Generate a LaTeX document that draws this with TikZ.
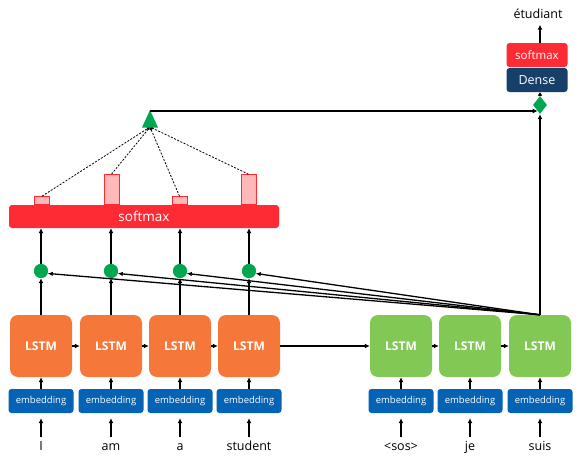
\documentclass[tikz,border=0pt]{standalone}
\usepackage{fontspec}
\setmainfont{Open Sans}
\usetikzlibrary{arrows.meta,shapes.geometric,calc}
\definecolor{lstmO}{RGB}{245,120,58}
\definecolor{lstmG}{RGB}{130,200,85}
\definecolor{embB}{RGB}{5,99,181}
\definecolor{smR}{RGB}{255,43,52}
\definecolor{denseB}{RGB}{22,64,105}
\definecolor{dotG}{RGB}{0,166,80}
\definecolor{barP}{RGB}{255,184,184}
\begin{document}
\begin{tikzpicture}[x=1pt,y=-1pt,
 enc/.style={fill=lstmO, rounded corners=8pt, minimum width=62pt, minimum height=62pt, text=white, font=\bfseries\fontsize{12}{14}\selectfont, inner sep=0},
 dec/.style={enc, fill=lstmG},
 emb/.style={fill=embB, rounded corners=3pt, minimum width=65pt, minimum height=24pt, text=white, font=\fontsize{9.5}{10}\selectfont, inner sep=0},
 word/.style={font=\fontsize{12.5}{14}\selectfont, text height=8.5pt, text depth=2.5pt, inner sep=0},
 dot/.style={circle, fill=dotG, minimum size=14pt, inner sep=0},
 bar/.style={fill=barP, draw=smR, line width=0.8pt, minimum width=15pt, inner sep=0, anchor=south},
 arr/.style={-{Latex[length=5pt,width=5pt]}, line width=1.8pt},
 thinarr/.style={-{Latex[length=5pt,width=4.5pt]}, line width=1.3pt},
 dasharr/.style={-{Latex[length=3pt,width=3pt]}, line width=0.8pt, dash pattern=on 2pt off 1.5pt},
 smbox/.style={fill=smR, rounded corners=3pt, text=white, inner sep=0}
]
\useasboundingbox (0,0) rectangle (582,463);

% encoder
\foreach \i/\x/\w in {1/41/I,2/111/am,3/180/a,4/249/student}{
  \node[enc] (l\i) at (\x,346) {LSTM};
  \node[emb] (e\i) at (\x,401) {embedding};
  \node[word] (w\i) at (\x,447) {\w};
  \node[dot] (c\i) at (\x,271) {};
  \draw[arr, shorten <=4pt, shorten >=5pt] (w\i.north) -- (e\i.south);
  \draw[arr] (e\i.north) -- (l\i.south);
}
% decoder
\foreach \i/\x/\w in {1/401/{<sos>},2/470/je,3/540/suis}{
  \node[dec] (d\i) at (\x,346) {LSTM};
  \node[emb] (f\i) at (\x,401) {embedding};
  \node[word] (v\i) at (\x,447) {\w};
  \draw[arr, shorten <=4pt, shorten >=5pt] (v\i.north) -- (f\i.south);
  \draw[arr] (f\i.north) -- (d\i.south);
}
\draw[arr] (l1.east) -- (l2.west);
\draw[arr] (l2.east) -- (l3.west);
\draw[arr] (l3.east) -- (l4.west);
\draw[arr] (l4.east) -- (d1.west);
\draw[arr] (d1.east) -- (d2.west);
\draw[arr] (d2.east) -- (d3.west);

% softmax bar
\node[smbox, minimum width=270pt, minimum height=23pt, font=\fontsize{13.5}{15}\selectfont] (sm) at (144,216.5) {softmax};

% decoder to attention dots
\foreach \i in {1,2,3,4}{
  \draw[thinarr] (d3.north) -- (c\i.-20);
}
\foreach \i in {1,2,3,4}{
  \draw[arr] (l\i.north) -- (c\i.south);
  \node[dot] at (c\i) {};
  \draw[arr] (c\i.north) -- (c\i |- sm.south);
}

% attention weight bars
\node[bar, minimum height=8pt] (b1) at (42,205) {};
\node[bar, minimum height=30pt] (b2) at (111.5,205) {};
\node[bar, minimum height=8pt] (b3) at (179.5,205) {};
\node[bar, minimum height=30pt] (b4) at (248.5,205) {};

% context triangle
\coordinate (tritop) at (150,111);
\coordinate (tribot) at (150,127);
\foreach \i in {1,2,3,4}{
  \draw[dasharr] (b\i.north) -- (tribot);
}
\fill[dotG] (142,127.5) -- (150,110) -- (158,127.5) -- cycle;

% output stack
\node[diamond, fill=dotG, minimum width=14pt, minimum height=18pt, inner sep=0] (dia) at (540,105) {};
\node[smbox, fill=denseB, minimum width=61pt, minimum height=24pt, font=\fontsize{12.5}{14}\selectfont] (dense) at (537,80) {Dense};
\node[smbox, minimum width=61pt, minimum height=24pt, font=\fontsize{11.5}{13}\selectfont] (sm2) at (537,55) {softmax};
\node[word] (out) at (538,15) {étudiant};
\coordinate (hin) at ($(dia.west)!0.67!(dia.south)$);
\draw[arr] (tritop) -- (tritop -| hin);
\draw[arr] (d3.north) -- (dia.south);
\draw[-{Latex[length=3.5pt,width=5pt]}, line width=1.8pt] (dia.north) -- (dia.north |- dense.south);
\draw[arr, shorten >=4pt] (sm2.north -| dia) -- (out.south -| dia);
\end{tikzpicture}
\end{document}
